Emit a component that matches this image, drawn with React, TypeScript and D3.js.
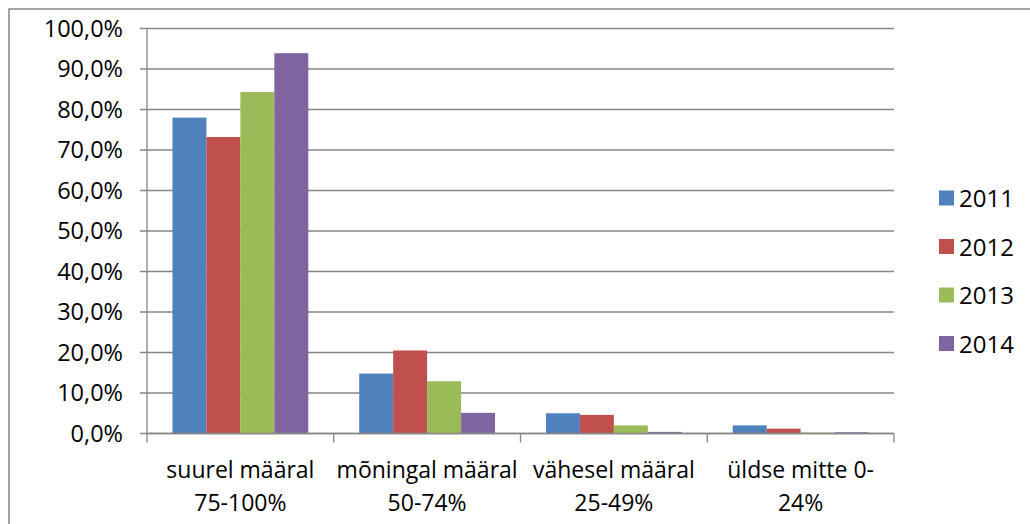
import React from 'react';
import * as d3 from 'd3';

// categories (two text lines each) and yearly series, in percent
const categories = ['suurel määral 75-100%', 'mõningal määral 50-74%', 'vähesel määral 25-49%', 'üldse mitte 0-24%'];
const categoryLines = [
  ['suurel määral', '75-100%'],
  ['mõningal määral', '50-74%'],
  ['vähesel määral', '25-49%'],
  ['üldse mitte 0-', '24%'],
];
const years = ['2011', '2012', '2013', '2014'];
const values2011 = [78.0, 14.8, 5.0, 2.0];
const values2012 = [73.2, 20.5, 4.6, 1.2];
const values2013 = [84.3, 12.9, 2.0, 0.2];
const values2014 = [93.9, 5.1, 0.4, 0.3];
const seriesValues = [values2011, values2012, values2013, values2014];
const colors = ['#4F81BD', '#C0504D', '#9BBB59', '#8064A2'];
const yTicks = [0, 10, 20, 30, 40, 50, 60, 70, 80, 90, 100];

const W = 1030, H = 524;
const plot = { left: 147, right: 894, top: 28.5, bottom: 433.5 };
const font = "'Open Sans', 'Liberation Sans', sans-serif";
const gray = '#868686';

export default function App() {
  const y = d3.scaleLinear().domain([0, 100]).range([plot.bottom, plot.top]);
  const x = d3.scaleBand().domain(categories).range([plot.left, plot.right]);
  const bw = x.bandwidth();
  const pad = (bw * 0.75) / 5.5; // excel gap width 150%
  const xs = d3.scaleBand().domain(years).range([pad, bw - pad]);
  const fmt = (v: number) => v.toFixed(1).replace('.', ',') + '%';

  return (
    <div style={{ position: 'fixed', left: 0, top: 0 }}>
      <svg width={W} height={H} style={{ display: 'block', background: '#fff' }}>
        {/* chart border (cut off at right and bottom) */}
        <rect x={9} y={9} width={W + 20} height={H + 20} fill="none" stroke={gray} strokeWidth={1.5} />

        {/* gridlines + y ticks */}
        {yTicks.map((t) => (
          <g key={t}>
            <line x1={plot.left - 7} x2={plot.right} y1={y(t)} y2={y(t)} stroke={gray} strokeWidth={1.3} />
            <text x={123} y={y(t) + 2} textAnchor="end" dominantBaseline="middle"
              fontFamily={font} fontSize={23.5} fill="#000">{fmt(t)}</text>
          </g>
        ))}

        {/* bars */}
        {categories.map((c, ci) => (
          <g key={c} transform={`translate(${x(c)},0)`}>
            {years.map((yr, si) => {
              const v = seriesValues[si][ci];
              return (
                <rect key={yr} x={xs(yr)} y={y(v)} width={xs.bandwidth()} height={y(0) - y(v)}
                  fill={colors[si]} />
              );
            })}
          </g>
        ))}

        {/* axes */}
        <line x1={plot.left} x2={plot.left} y1={plot.top} y2={plot.bottom} stroke={gray} strokeWidth={1.3} />
        <line x1={plot.left} x2={plot.right} y1={plot.bottom} y2={plot.bottom} stroke={gray} strokeWidth={1.3} />
        {[0, 1, 2, 3, 4].map((i) => {
          const xx = plot.left + i * bw;
          return <line key={i} x1={xx} x2={xx} y1={plot.bottom} y2={plot.bottom + 9} stroke={gray} strokeWidth={1.3} />;
        })}

        {/* category labels */}
        {categories.map((c, ci) => (
          <text key={c} textAnchor="middle" fontFamily={font} fontSize={23} fill="#000">
            {categoryLines[ci].map((ln, li) => (
              <tspan key={li} x={(x(c) as number) + bw / 2} y={478 + li * 33}>{ln}</tspan>
            ))}
          </text>
        ))}

        {/* legend */}
        {years.map((yr, i) => (
          <g key={yr} transform={`translate(939,${190.5 + i * 48.5})`}>
            <rect x={0} y={0} width={15} height={15} fill={colors[i]} />
            <text x={20} y={16.5} fontFamily={font} fontSize={24} fill="#000">{yr}</text>
          </g>
        ))}
      </svg>
    </div>
  );
}
